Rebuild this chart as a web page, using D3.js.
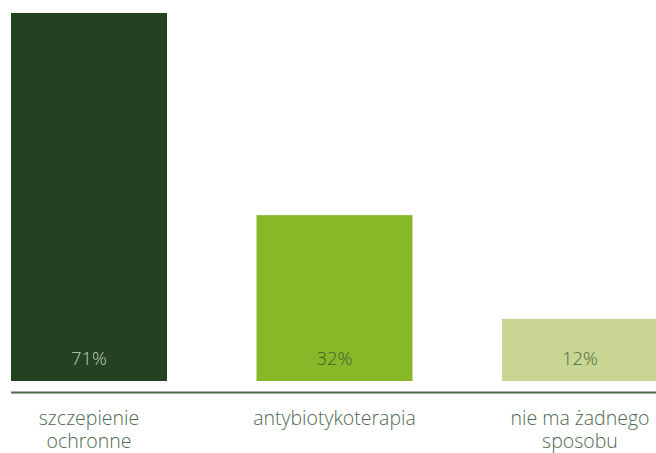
<!DOCTYPE html>
<html>
<head>
<meta charset="utf-8">
<script src="https://cdn.jsdelivr.net/npm/d3@7"></script>
<style>
  body { margin: 0; background: #fff; }
  svg text { font-family: "Open Sans", "Noto Sans", sans-serif; font-weight: 300; }
</style>
</head>
<body>
<div id="chart"></div>
<script>
// Daten
const kategorien = [["szczepienie", "ochronne"], ["antybiotykoterapia"], ["nie ma żadnego", "sposobu"]];
const werte = [71, 32, 12];
const farben = ["#234222", "#86b828", "#c9d693"];
const labelFarben = ["#c3cdbd", "#3f5f37", "#4a6a44"];

const breite = 656, hoehe = 453;
const basis = 381;

const svg = d3.select("#chart").append("svg")
  .attr("width", breite)
  .attr("height", hoehe);

const x = d3.scaleBand()
  .domain(d3.range(werte.length))
  .range([11, 658])
  .paddingInner(0.3646)
  .paddingOuter(0);

const y = d3.scaleLinear().domain([0, 71]).range([basis, 13]);

// Balken
svg.selectAll(".bar")
  .data(werte)
  .enter()
  .append("rect")
  .attr("class", "bar")
  .attr("x", (d, i) => x(i))
  .attr("width", x.bandwidth())
  .attr("y", d => y(d))
  .attr("height", d => basis - y(d))
  .attr("fill", (d, i) => farben[i]);

// Werte
svg.selectAll(".wert")
  .data(werte)
  .enter()
  .append("text")
  .attr("class", "wert")
  .attr("x", (d, i) => x(i) + x.bandwidth() / 2)
  .attr("y", 365)
  .attr("text-anchor", "middle")
  .attr("font-size", 18.5)
  .attr("fill", (d, i) => labelFarben[i])
  .text(d => d + "%");

// Achse
svg.append("line")
  .attr("x1", 11).attr("x2", breite)
  .attr("y1", 392.5).attr("y2", 392.5)
  .attr("stroke", "#4d6b4c")
  .attr("stroke-width", 2);

// Kategorien
const kat = svg.selectAll(".kat")
  .data(kategorien)
  .enter()
  .append("text")
  .attr("class", "kat")
  .attr("text-anchor", "middle")
  .attr("font-size", 19.5)
  .attr("fill", "#4f6a52");

kat.selectAll("tspan")
  .data((d, i) => d.map(t => ({ t, i })))
  .enter()
  .append("tspan")
  .attr("x", d => x(d.i) + x.bandwidth() / 2)
  .attr("y", (d, j) => 425 + j * 23)
  .text(d => d.t);
</script>
</body>
</html>
